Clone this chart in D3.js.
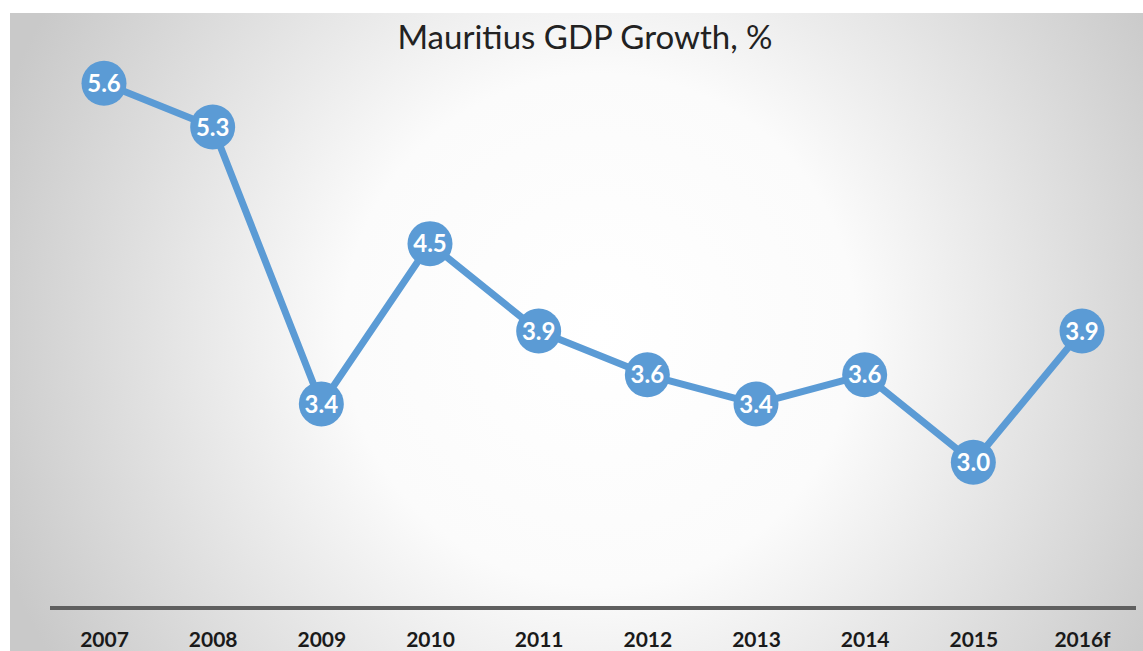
<!DOCTYPE html>
<html>
<head>
<meta charset="utf-8">
<script src="https://cdn.jsdelivr.net/npm/d3@7"></script>
<style>
  html, body { margin: 0; padding: 0; background: #ffffff; }
  svg { display: block; }
</style>
</head>
<body>
<svg class="chart"></svg>
<script>
const years = ['2007', '2008', '2009', '2010', '2011', '2012', '2013', '2014', '2015', '2016f']
const growth = [5.6, 5.3, 3.4, 4.5, 3.9, 3.6, 3.4, 3.6, 3.0, 3.9]
const title = 'Mauritius GDP Growth, %'

const width = 1143
const height = 651
const blue = '#5b9bd5'

const svg = d3.select('.chart')
  .attr('width', width)
  .attr('height', height)

// background: radial grey -> white
const defs = svg.append('defs')
const grad = defs.append('radialGradient')
  .attr('id', 'bg')
  .attr('gradientUnits', 'userSpaceOnUse')
  .attr('cx', 600).attr('cy', 330).attr('r', 640)
grad.append('stop').attr('offset', '0%').attr('stop-color', '#ffffff')
grad.append('stop').attr('offset', '40%').attr('stop-color', '#fbfbfb')
grad.append('stop').attr('offset', '100%').attr('stop-color', '#c9c9c9')

svg.append('rect')
  .attr('x', 10).attr('y', 13)
  .attr('width', width - 10).attr('height', height - 13)
  .attr('fill', 'url(#bg)')

svg.append('text')
  .attr('x', 585)
  .attr('y', 49)
  .attr('text-anchor', 'middle')
  .style('font-family', 'Lato, "Open Sans", sans-serif')
  .style('font-size', '33px')
  .style('fill', '#222')
  .text(title)

// scales
const xSc = d3.scalePoint()
  .domain(years)
  .range([104, 1082])

const ySc = d3.scaleLinear()
  .domain([2, 6])
  .range([608, 25])

// x axis
const axisG = svg.append('g')
  .attr('transform', `translate(0,${ySc(2)})`)
  .call(d3.axisBottom(xSc).tickSize(0).tickPadding(24))

axisG.select('.domain')
  .attr('d', 'M50,0H1136')
  .attr('stroke', '#5f5f5f')
  .attr('stroke-width', 4)

axisG.selectAll('text')
  .style('font-family', 'Lato, "Open Sans", sans-serif')
  .style('font-size', '21px')
  .style('font-weight', 'bold')
  .style('fill', '#1a1a1a')

// line
const line = d3.line()
  .x((d, i) => xSc(years[i]))
  .y(d => ySc(d))

svg.append('path')
  .datum(growth)
  .attr('d', line)
  .attr('fill', 'none')
  .attr('stroke', blue)
  .attr('stroke-width', 7)
  .attr('stroke-linejoin', 'round')

// markers
const pts = svg.selectAll('.pt')
  .data(growth)
  .enter()
  .append('g')
  .attr('class', 'pt')
  .attr('transform', (d, i) => `translate(${xSc(years[i])},${ySc(d)})`)

pts.append('circle')
  .attr('r', 22.5)
  .attr('fill', blue)

pts.append('text')
  .attr('text-anchor', 'middle')
  .attr('dy', '0.36em')
  .style('font-family', 'Lato, "Open Sans", sans-serif')
  .style('font-size', '24px')
  .style('font-weight', 'bold')
  .style('fill', '#ffffff')
  .text(d => d.toFixed(1))
</script>
</body>
</html>
